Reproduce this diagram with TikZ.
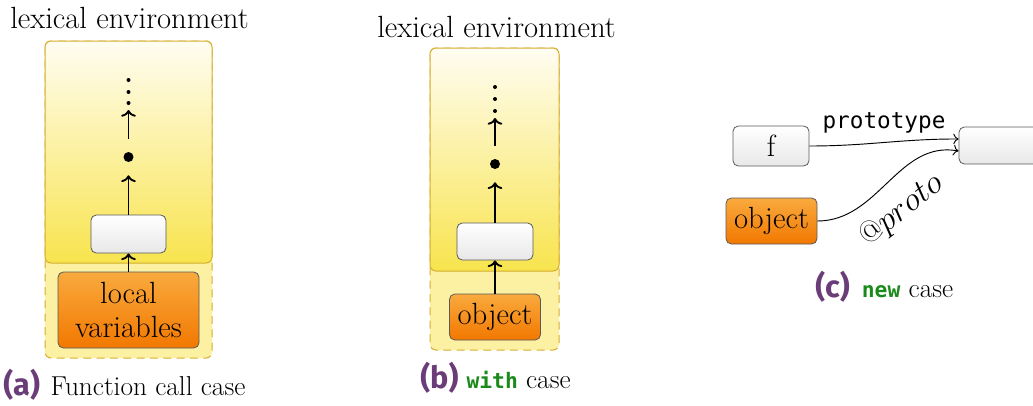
\documentclass[tikz,border=0pt]{standalone}
\usepackage{fontspec}
\newfontfamily\capfont{Fira Sans}
\newfontfamily\codefont{DejaVu Sans Mono}
\usetikzlibrary{arrows.meta}
\definecolor{envtop}{HTML}{FFFDF2}
\definecolor{envbot}{HTML}{F8E44E}
\definecolor{envline}{HTML}{D6AE2E}
\definecolor{dashfill}{HTML}{FCF0A2}
\definecolor{orgtop}{HTML}{F9AA3E}
\definecolor{orgbot}{HTML}{F27800}
\definecolor{boxline}{HTML}{5A5A5A}
\definecolor{graybot}{HTML}{E8E8E8}
\definecolor{capcol}{HTML}{6A3D78}
\definecolor{kwcol}{HTML}{1A8A1A}
\newcommand\serifbig{\fontsize{23}{26}\selectfont}
\newcommand\capsz{\fontsize{20.5}{23}\selectfont}
\newcommand\caplbl[1]{{\capfont\bfseries\fontsize{23}{26}\selectfont\color{capcol}(#1)}}
\newcommand\kw[1]{{\codefont\bfseries\fontsize{16}{19}\selectfont\color{kwcol}#1}}
\tikzset{
  envbox/.style={draw=envline, line width=0.75pt, rounded corners=4.5pt, top color=envtop, bottom color=envbot},
  dashbox/.style={draw=envline, dash pattern=on 6pt off 4pt, line width=0.75pt, fill=dashfill, rounded corners=4.5pt},
  graybox/.style={draw=boxline, line width=0.6pt, rounded corners=4pt, top color=white, bottom color=graybot, inner sep=0pt, font=\serifbig},
  orangebox/.style={draw=boxline, line width=0.6pt, rounded corners=4pt, top color=orgtop, bottom color=orgbot, inner sep=0pt, font=\serifbig, align=center},
  dotnode/.style={circle, fill=black, inner sep=0pt, minimum size=7.5pt, outer sep=10pt},
  smalldot/.style={circle, fill=black, inner sep=0pt, minimum size=3pt},
  chain/.style={line width=1.4pt, -{To[length=5pt,width=11pt]}},
  link/.style={line width=0.7pt, -{To[length=4pt,width=8pt]}},
  title/.style={font=\serifbig, anchor=base west, inner sep=0pt},
  caption/.style={font=\capsz, anchor=base west, inner sep=0pt}
}
\begin{document}
\begin{tikzpicture}[x=0.75pt,y=-0.75pt]
\useasboundingbox (0,0) rectangle (1033,405);
\clip (0,0) rectangle (1033,405);

% ---------- (a) ----------
\node[title] (tla) at (10,28) {lexical environment};
\draw[dashbox] (45,41) rectangle (212,358);
\draw[envbox] (45,41) rectangle (212,263);
\node[graybox, minimum width=56.25pt, minimum height=28.5pt] (wa) at (128.5,234) {};
\node[orangebox, minimum width=105.75pt, minimum height=57pt] (la) at (128.5,310) {local\\variables};
\node[dotnode] (da) at (128.5,157) {};
\node[smalldot] (va1) at (128.5,80) {};
\node[smalldot] (va2) at (128.5,92) {};
\node[smalldot] (va3) at (128.5,103) {};
\coordinate (vae) at (128.5,110);
\draw[chain] (la.north) -- (wa.south);
\draw[chain] (wa.north) -- (da);
\draw[chain] (da) -- (vae);
\node[caption] (ca) at (3,395) {\caplbl{a}\hspace{8pt}Function call case};

% ---------- (b) ----------
\node[title] (tlb) at (377,37) {lexical environment};
\draw[dashbox] (430,48) rectangle (559,350);
\draw[envbox] (430,48) rectangle (559,271);
\node[graybox, minimum width=57pt, minimum height=27.75pt] (wb) at (495,241.5) {};
\node[orangebox, minimum width=68.25pt, minimum height=34.5pt] (ob) at (495,317) {object};
\node[dotnode] (db) at (495,164) {};
\node[smalldot] (vb1) at (495,87) {};
\node[smalldot] (vb2) at (495,99) {};
\node[smalldot] (vb3) at (495,111) {};
\coordinate (vbe) at (495,118);
\draw[chain] (ob.north) -- (wb.south);
\draw[chain] (wb.north) -- (db);
\draw[chain] (db) -- (vbe);
\node[caption] (cb) at (420,388) {\caplbl{b}\hspace{6pt}\kw{with} case};

% ---------- (c) ----------
\node[graybox, minimum width=57pt, minimum height=30pt] (f) at (771,146) {f};
\node[orangebox, minimum width=68.25pt, minimum height=34.5pt] (oc) at (771.5,221) {object};
\node[graybox, minimum width=61.5pt, minimum height=27.75pt] (tg) at (1000,145.5) {};
\draw[link] (f.east) to[out=0,in=180]
  node[pos=0.5, above=3pt, font=\codefont\fontsize{17}{19}\selectfont] (lp) {prototype}
  ([yshift=4.9pt]tg.west);
\draw[link] (oc.east) to[out=0,in=170] ([yshift=-4.1pt]tg.west);
\node[font=\serifbig, rotate=38, inner sep=0pt] (lq) at (902,211) {$@proto$};
\node[caption] (cc) at (815,297) {\caplbl{c}\hspace{9pt}\kw{new} case};
\end{tikzpicture}
\end{document}
